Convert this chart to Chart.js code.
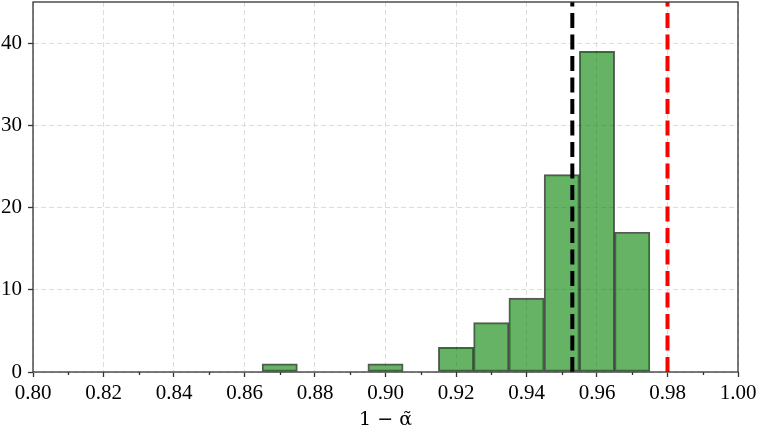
<!DOCTYPE html>
<html>
<head>
<meta charset="utf-8">
<script src="https://cdn.jsdelivr.net/npm/chart.js@4.4.1/dist/chart.umd.min.js"></script>
<style>
  html, body { margin: 0; padding: 0; background: #fff; }
  #chart { display: block; }
</style>
</head>
<body>
<canvas id="chart" width="758" height="431"></canvas>
<script>
// histogram of 1 - alpha~ (bin width 0.01)
const binCenters = [0.87, 0.90, 0.92, 0.93, 0.94, 0.95, 0.96, 0.97];
const binCounts = [1, 1, 3, 6, 9, 24, 39, 17];

// reference lines
const meanValue = 0.953;
const targetValue = 0.98;

const xTicks = [0.80, 0.82, 0.84, 0.86, 0.88, 0.90, 0.92, 0.94, 0.96, 0.98, 1.00];
const yTicks = [0, 10, 20, 30, 40];
const xRange = [0.80, 1.00];
const yRange = [0, 45];

const tickFont = { family: '"Liberation Serif", "DejaVu Serif", serif', size: 21 };

// matplotlib-ish frame + minor ticks on x
const framePlugin = {
    id: 'frame',
    afterDraw(chart) {
        const { ctx, chartArea: a, scales } = chart;
        ctx.save();
        ctx.strokeStyle = '#333';
        ctx.lineWidth = 1.3;
        ctx.beginPath();
        const xs = scales.x;
        for (let i = 1; i < 20; i += 2) {
            const px = Math.round(xs.getPixelForValue(xRange[0] + i * 0.01)) + 0.5;
            ctx.moveTo(px, a.bottom);
            ctx.lineTo(px, a.bottom + 3);
        }
        ctx.stroke();
        ctx.strokeRect(a.left, a.top, a.right - a.left, a.bottom - a.top);
        ctx.restore();
    }
};

const vline = (x, color) => ({
    type: 'line',
    data: [{ x: x, y: yRange[0] }, { x: x, y: yRange[1] }],
    borderColor: color,
    borderWidth: 4,
    borderDash: [15, 6.5],
    pointRadius: 0,
    fill: false,
    order: 1
});

new Chart(document.getElementById('chart').getContext('2d'), {
    data: {
        datasets: [
            {
                type: 'bar',
                data: binCenters.map((c, i) => ({ x: c, y: binCounts[i] })),
                backgroundColor: 'rgba(0, 128, 0, 0.6)',
                borderColor: 'rgba(0, 0, 0, 0.65)',
                borderWidth: 1.3,
                borderSkipped: false,
                barPercentage: 1,
                categoryPercentage: 1,
                order: 2
            },
            vline(meanValue, '#000000'),
            vline(targetValue, '#ff0000')
        ]
    },
    plugins: [framePlugin],
    options: {
        responsive: false,
        devicePixelRatio: 1,
        animation: false,
        layout: { padding: { left: 0, right: 20, top: 2, bottom: 0 } },
        plugins: { legend: { display: false }, tooltip: { enabled: false } },
        scales: {
            x: {
                type: 'linear',
                offset: false,
                min: xRange[0],
                max: xRange[1],
                afterBuildTicks: s => { s.ticks = xTicks.map(v => ({ value: v })); },
                afterFit: s => { s.height = 59; s.paddingLeft = 0; s.paddingRight = 0; },
                ticks: {
                    color: '#000',
                    font: tickFont,
                    padding: 4,
                    maxRotation: 0,
                    autoSkip: false,
                    callback: v => Number(v).toFixed(2)
                },
                grid: { offset: false, color: '#dcdcdc', lineWidth: 1, tickLength: 5, tickColor: '#333', tickWidth: 1.3 },
                border: { display: false, dash: [5, 3] },
                title: {
                    display: true,
                    text: '1 − α̃',
                    color: '#000',
                    font: { family: '"DejaVu Serif", serif', size: 19 },
                    padding: { top: 0, bottom: 0 }
                }
            },
            y: {
                type: 'linear',
                min: yRange[0],
                max: yRange[1],
                afterBuildTicks: s => { s.ticks = yTicks.map(v => ({ value: v })); },
                afterFit: s => { s.width = 33; s.paddingTop = 0; s.paddingBottom = 0; },
                ticks: { color: '#000', font: tickFont, padding: 6 },
                grid: { color: '#dcdcdc', lineWidth: 1, tickLength: 5, tickColor: '#333', tickWidth: 1.3 },
                border: { display: false, dash: [5, 3] }
            }
        }
    }
});
</script>
</body>
</html>
